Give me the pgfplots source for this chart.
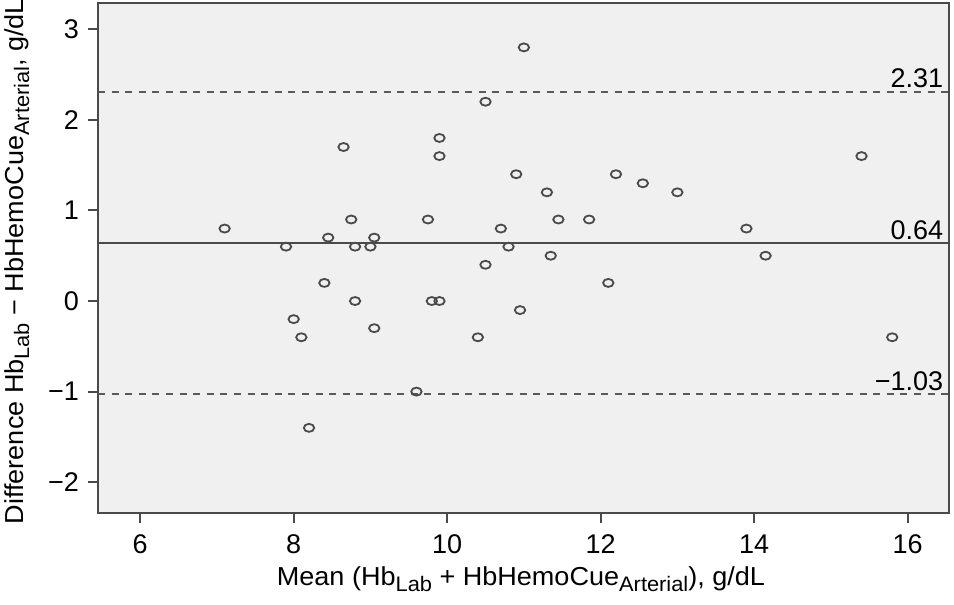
\documentclass[border=0pt]{standalone}
\usepackage{pgfplots}
\pgfplotsset{compat=1.18}
\usepackage{fontspec}
\setmainfont{Liberation Sans}
\definecolor{bg}{HTML}{F0F0F0}
\definecolor{ink}{HTML}{4A4A4A}
\definecolor{dots}{HTML}{5A5A5A}
% subscripts in the labels are almost full size
\newcommand{\sub}[1]{\raisebox{-0.45ex}{\fontsize{10.5}{12}\selectfont #1}}

\begin{document}
\begin{tikzpicture}
\begin{axis}[
  name=ba,
  scale only axis, width=425.5pt, height=255pt,
  xmin=5.45, xmax=16.54, ymin=-2.34, ymax=3.29,
  axis background/.style={fill=bg},
  axis line style={ink, line width=1pt},
  tick align=outside, tick pos=left,
  major tick length=5pt,
  every tick/.style={ink, line width=1pt},
  xtick={6,8,...,16}, xticklabels={6,8,10,12,14,16},
  ytick={-2,...,3}, yticklabels={−2,−1,0,1,2,3},
  tick label style={font=\fontsize{13.5}{16}\selectfont, text=black},
  xticklabel style={yshift=-2.5pt},
  yticklabel style={xshift=-1pt},
  label style={font=\fontsize{13}{15}\selectfont},
  xlabel={\scalebox{1.04}[1]{Mean (Hb\sub{Lab} + HbHemoCue\sub{Arterial}), g/dL}},
  ylabel={\scalebox{1.04}[1]{Difference Hb\sub{Lab} − HbHemoCue\sub{Arterial}, g/dL}},
  x label style={at={(axis description cs:0.497,-0.1412)}, anchor=base},
  y label style={at={(axis description cs:-0.0881,0.493)}, anchor=base},
]
% limits of agreement and mean difference
\addplot[dots, line width=1.1pt, dash pattern=on 3.5pt off 3.3pt] coordinates {(5.45,2.31) (16.54,2.31)};
\addplot[ink, line width=0.8pt] coordinates {(5.45,0.64) (16.54,0.64)};
\addplot[dots, line width=1.1pt, dash pattern=on 3.5pt off 3.3pt] coordinates {(5.45,-1.03) (16.54,-1.03)};

\addplot[only marks, mark=o, mark size=2pt,
  mark options={xscale=1.3, ink, line width=0.9pt}] coordinates {
  (11.0,2.8) (10.5,2.2) (8.65,1.7) (9.9,1.8) (9.9,1.6) (10.9,1.4)
  (7.1,0.8) (7.9,0.6) (8.45,0.7) (8.75,0.9) (8.8,0.6) (9.0,0.6)
  (9.05,0.7) (9.75,0.9) (10.7,0.8) (10.8,0.6) (10.5,0.4) (8.4,0.2)
  (8.8,0) (9.8,0) (9.9,0) (10.95,-0.1) (8.0,-0.2) (8.1,-0.4)
  (9.05,-0.3) (10.4,-0.4) (9.6,-1.0) (8.2,-1.4) (15.4,1.6) (11.3,1.2)
  (12.2,1.4) (12.55,1.3) (13.0,1.2) (11.45,0.9) (11.85,0.9) (13.9,0.8)
  (11.35,0.5) (14.15,0.5) (12.1,0.2) (15.8,-0.4)
};

\node[anchor=base east, inner sep=0pt, yshift=2pt, font=\fontsize{13.5}{16}\selectfont] at (axis cs:16.47,2.31) {2.31};
\node[anchor=base east, inner sep=0pt, yshift=2pt, font=\fontsize{13.5}{16}\selectfont] at (axis cs:16.47,0.64) {0.64};
\node[anchor=base east, inner sep=0pt, yshift=2pt, font=\fontsize{13.5}{16}\selectfont] at (axis cs:16.47,-1.03) {−1.03};
\end{axis}
\pgfresetboundingbox
\path[use as bounding box] ([shift={(-49pt,-46pt)}]ba.south west) rectangle ([shift={(2.5pt,1.5pt)}]ba.north east);
\end{tikzpicture}
\end{document}
